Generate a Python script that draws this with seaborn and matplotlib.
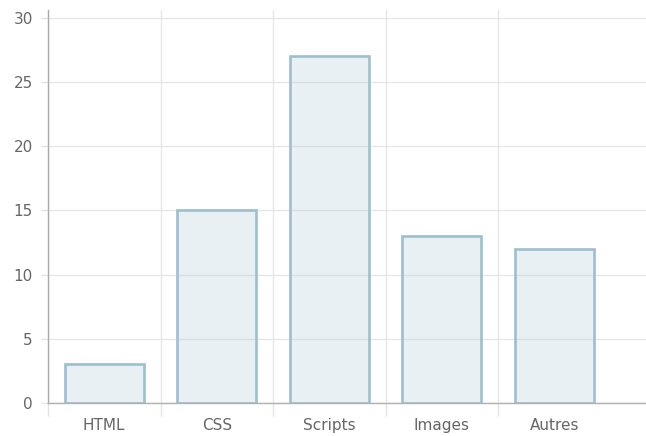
import matplotlib
matplotlib.use("Agg")
import matplotlib.pyplot as plt
import seaborn as sns
import pandas as pd
import numpy as np

categories = ["HTML", "CSS", "Scripts", "Images", "Autres"]
values = [3, 15, 27, 13, 12]

sns.set_theme(style="white")
plt.rcParams['font.family'] = ['DejaVu Sans']

df = pd.DataFrame({"cat": categories, "val": values})

fig = plt.figure(figsize=(6.46, 4.36), dpi=100)
ax = fig.add_axes([48/646, 1-403/436, (646-48)/646, (403-10)/436])

sns.barplot(data=df, x="cat", y="val", ax=ax, color="#9cbfd1", width=0.70,
            edgecolor="#9cbfd1", linewidth=1.9, saturation=1)
for p in ax.patches:
    p.set_facecolor((0.61, 0.75, 0.82, 0.22))
    p.set_edgecolor("#9cbfd1")

ax.set_xlim(-0.5, -0.5 + (646-48)/112.5)
ax.set_ylim(0, 30.6)
ax.set_yticks(np.arange(0, 31, 5))
ax.set_xlabel("")
ax.set_ylabel("")

ax.set_xticks(np.arange(-0.5, len(categories)-1), minor=True)
ax.tick_params(axis="x", which="minor", length=9, color="#e3e3e3", width=1,
               direction="out", bottom=True)
ax.tick_params(axis="x", which="major", length=0, pad=10.5, labelsize=11,
               labelcolor="#666666", bottom=True)
ax.tick_params(axis="y", which="major", length=5, color="#e3e3e3", width=1, pad=5.8,
               labelsize=11, labelcolor="#666666", left=True)
ax.xaxis.get_minor_ticks()[0].tick1line.set_color("#aaaaaa")

ax.grid(True, axis="y", color="#e6e6e6", linewidth=1)
ax.grid(True, axis="x", which="minor", color="#e6e6e6", linewidth=1)
ax.grid(False, axis="x", which="major")
ax.set_axisbelow(True)

for s in ["top", "right"]:
    ax.spines[s].set_visible(False)
ax.spines["left"].set_color("#aaaaaa")
ax.spines["bottom"].set_color("#b0b0b0")
ax.spines["left"].set_linewidth(1)
ax.spines["bottom"].set_linewidth(1)

fig.savefig("out.png", dpi=100)
